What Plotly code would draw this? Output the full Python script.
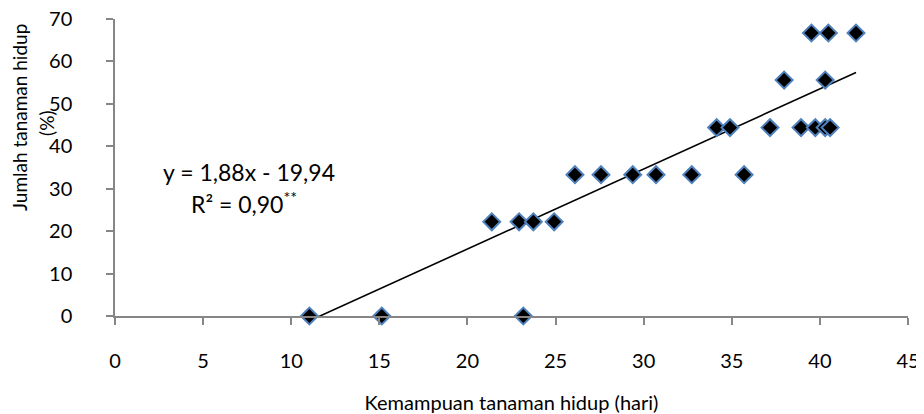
import plotly.graph_objects as go

x_hari = [11.03, 15.14, 23.17,
          21.38, 22.93, 23.74, 24.92,
          26.1, 27.58, 29.38, 30.70, 32.73, 35.70,
          34.14, 34.9, 37.17, 38.93, 39.74, 40.3, 40.58,
          37.97, 40.3,
          39.52, 40.48, 42.05]
y_persen = [0, 0, 0,
            22.2, 22.2, 22.2, 22.2,
            33.3, 33.3, 33.3, 33.3, 33.3, 33.3,
            44.4, 44.4, 44.4, 44.4, 44.4, 44.4, 44.4,
            55.6, 55.6,
            66.7, 66.7, 66.7]

# trend line as drawn in the reference
trend_slope = 1.887
trend_intercept = -21.95
eq_text = "y = 1,88x - 19,94"
r2_text = "R² = 0,90<sup>**</sup>"
x_title = "Kemampuan tanaman hidup (hari)"
y_title_lines = ["Jumlah tanaman hidup", "(%)"]

x_line = [min(x_hari), max(x_hari)]
y_line = [trend_slope * v + trend_intercept for v in x_line]

font = "Lato, 'Open Sans', sans-serif"
fig = go.Figure()
fig.add_trace(go.Scatter(x=x_line, y=y_line, mode="lines",
                         line=dict(color="black", width=1.6), showlegend=False))
fig.add_trace(go.Scatter(x=x_hari, y=y_persen, mode="markers",
                         marker=dict(symbol="diamond", size=13, color="black",
                                     line=dict(color="#4f81bd", width=2)),
                         showlegend=False, cliponaxis=False))

fig.add_annotation(x=7.58, y=33.9, xref="x", yref="y", text=eq_text,
                   showarrow=False, font=dict(size=23, color="black", family=font))
fig.add_annotation(x=7.32, y=26.8, xref="x", yref="y", text=r2_text,
                   showarrow=False, font=dict(size=23, color="black", family=font))

# y-axis title (two rotated lines)
fig.add_annotation(x=-0.1211, y=0.670, xref="paper", yref="paper", text=y_title_lines[0],
                   textangle=-90, showarrow=False, xanchor="center", yanchor="middle",
                   font=dict(size=19, color="black", family=font))
fig.add_annotation(x=-0.0858, y=0.650, xref="paper", yref="paper", text=y_title_lines[1],
                   textangle=-90, showarrow=False, xanchor="center", yanchor="middle",
                   font=dict(size=19, color="black", family=font))

# page body has an 8px margin, so the figure is sized/offset to compensate
fig.update_layout(
    width=916, height=406,
    margin=dict(l=107, r=16, t=11, b=98),
    plot_bgcolor="white", paper_bgcolor="white",
    font=dict(family=font, color="black"),
    xaxis=dict(range=[0, 45], dtick=5, showgrid=False, zeroline=False,
               showline=True, linecolor="#868686", linewidth=1.5,
               ticks="outside", ticklen=7, tickcolor="#868686", tickwidth=1.5,
               tickfont=dict(size=20), ticklabelstandoff=19, automargin=False,
               ticklabeloverflow="allow",
               title=dict(text=x_title, font=dict(size=20), standoff=25)),
    yaxis=dict(range=[0, 70], dtick=10, showgrid=False, zeroline=False,
               showline=True, linecolor="#868686", linewidth=1.5,
               ticks="outside", ticklen=7, tickcolor="#868686", tickwidth=1.5,
               tickfont=dict(size=20), ticklabelstandoff=30, automargin=False,
               ticklabeloverflow="allow"),
)
fig.write_html("out.html")
